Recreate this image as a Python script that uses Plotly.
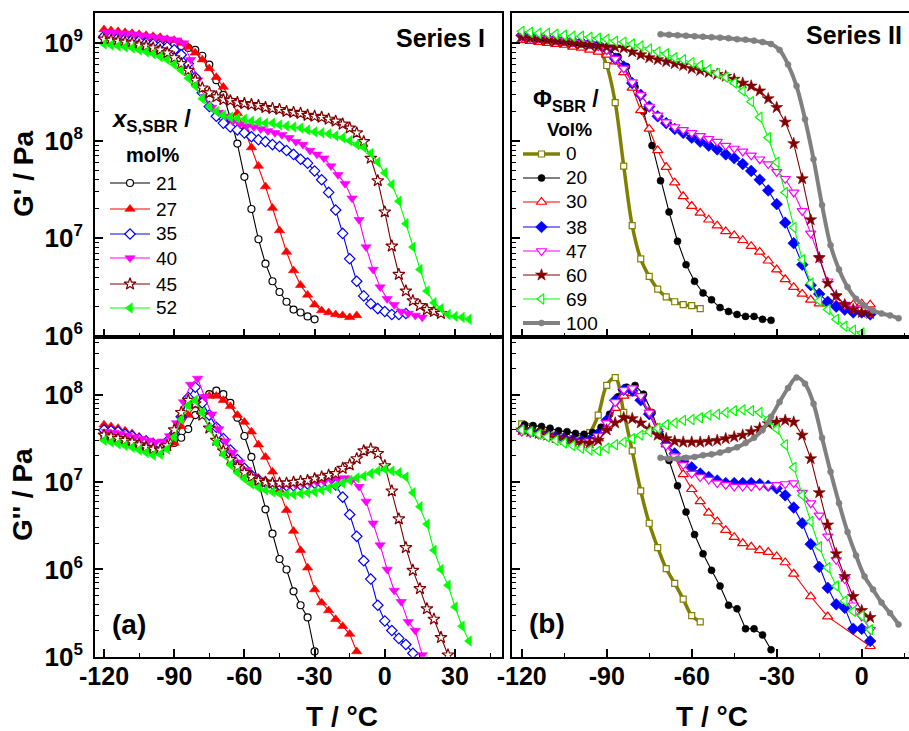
import plotly.graph_objects as go

W, H = 909, 731

# ---------------- temperature grids (deg C) ----------------
GRID_A = [-120, -117, -114, -111, -108, -105, -102, -99, -96, -93, -90, -87, -84, -81, -78, -75,
          -72, -69, -66, -63, -60, -57, -54, -51, -48, -45, -42, -39, -36, -33, -30, -27, -24,
          -21, -18, -15, -12, -9, -6, -3, 0, 3, 6, 9, 12, 15, 18, 21, 24, 27, 30, 33, 36]
GRID_B = [-119, -116, -113, -110, -107, -104, -101, -98, -95, -92, -89, -86, -83, -80, -77, -74,
          -71, -68, -65, -62, -59, -56, -53, -50, -47, -44, -41, -38, -35, -32, -29, -26, -23,
          -20, -17, -14, -11, -8, -5, -2, 1, 4, 7, 10, 13, 16]
GRID_C = [-71, -68, -65, -62, -59, -56, -53, -50, -47, -44, -41, -38, -35, -32, -29, -26, -23,
          -20, -17, -14, -11, -8, -5, -2, 1, 4, 7, 10, 13]
T_II_30_LOSS = [-120, -117, -114, -111, -108, -105, -102, -99, -96, -93, -90, -87, -84, -81, -78,
                -75, -72, -69, -66, -63, -60, -57, -54, -51, -48, -45, -42, -39, -36, -33, -30,
                -27, -24, -18, -12, 3]

# ---------------- Series I : log10(G' / Pa) ----------------
LG1_21 = [9.07, 9.06, 9.06, 9.05, 9.04, 9.03, 9.02, 9.01, 9.00, 8.99, 8.98, 8.97, 8.95, 8.93, 8.87,
          8.78, 8.62, 8.47, 8.23, 7.97, 7.63, 7.30, 6.99, 6.74, 6.56, 6.45, 6.35, 6.27, 6.24, 6.20, 6.17]
LG1_27 = [9.14, 9.13, 9.12, 9.11, 9.10, 9.09, 9.08, 9.07, 9.06, 9.04, 9.03, 9.00, 8.96, 8.90, 8.83,
          8.74, 8.65, 8.55, 8.42, 8.28, 8.12, 7.93, 7.74, 7.53, 7.31, 7.08, 6.86, 6.67, 6.52, 6.42,
          6.32, 6.26, 6.24, 6.22, 6.21, 6.19, 6.21]
LG1_35 = [9.07, 9.06, 9.05, 9.04, 9.03, 9.02, 9.00, 8.99, 8.97, 8.96, 8.93, 8.88, 8.79, 8.65, 8.49,
          8.35, 8.25, 8.18, 8.14, 8.11, 8.08, 8.04, 8.01, 7.99, 7.96, 7.94, 7.90, 7.86, 7.81, 7.77,
          7.69, 7.60, 7.47, 7.29, 7.05, 6.79, 6.56, 6.41, 6.33, 6.28, 6.25, 6.22, 6.22, 6.23]
LG1_40 = [9.11, 9.11, 9.10, 9.10, 9.09, 9.08, 9.07, 9.06, 9.05, 9.04, 9.03, 9.00, 8.83, 8.62, 8.45,
          8.34, 8.29, 8.25, 8.20, 8.17, 8.15, 8.14, 8.12, 8.10, 8.08, 8.06, 8.03, 7.99, 7.96, 7.90,
          7.86, 7.82, 7.74, 7.65, 7.56, 7.41, 7.19, 6.91, 6.68, 6.50, 6.38, 6.32, 6.25, 6.23, 6.21, 6.19]
LG1_45 = [9.04, 9.03, 9.02, 9.01, 9.00, 8.98, 8.97, 8.95, 8.93, 8.90, 8.85, 8.79, 8.72, 8.62, 8.54,
          8.49, 8.45, 8.42, 8.41, 8.39, 8.38, 8.37, 8.36, 8.34, 8.33, 8.32, 8.30, 8.29, 8.28, 8.26,
          8.25, 8.24, 8.22, 8.20, 8.17, 8.13, 8.08, 7.99, 7.82, 7.59, 7.27, 6.92, 6.63, 6.46, 6.36,
          6.31, 6.27, 6.25, 6.23]
LG1_52 = [8.99, 8.98, 8.97, 8.96, 8.95, 8.93, 8.91, 8.89, 8.86, 8.83, 8.78, 8.72, 8.64, 8.56, 8.43,
          8.35, 8.30, 8.26, 8.24, 8.23, 8.22, 8.20, 8.19, 8.18, 8.18, 8.16, 8.15, 8.14, 8.13, 8.11,
          8.09, 8.08, 8.07, 8.05, 8.03, 8.00, 7.96, 7.93, 7.87, 7.78, 7.67, 7.55, 7.38, 7.15, 6.91,
          6.68, 6.46, 6.34, 6.28, 6.22, 6.20, 6.19, 6.17]

# ---------------- Series I : log10(G'' / Pa) ----------------
LL1_21 = [7.55, 7.54, 7.53, 7.51, 7.49, 7.46, 7.43, 7.40, 7.39, 7.41, 7.45, 7.51, 7.61, 7.77, 7.92,
          8.01, 8.05, 8.01, 7.91, 7.74, 7.53, 7.29, 6.99, 6.69, 6.41, 6.12, 6.00, 5.75, 5.59, 5.45, 5.06]
LL1_27 = [7.66, 7.64, 7.62, 7.59, 7.56, 7.52, 7.49, 7.46, 7.44, 7.43, 7.45, 7.64, 7.77, 7.88, 7.96,
          7.99, 7.99, 7.94, 7.87, 7.77, 7.69, 7.58, 7.43, 7.29, 7.12, 6.91, 6.68, 6.44, 6.22, 6.02,
          5.77, 5.62, 5.53, 5.43, 5.35, 5.26, 5.06]
LL1_35 = [7.60, 7.59, 7.58, 7.55, 7.53, 7.50, 7.47, 7.44, 7.43, 7.47, 7.56, 7.75, 7.97, 8.09, 7.91,
          7.77, 7.63, 7.50, 7.37, 7.26, 7.16, 7.08, 7.03, 7.00, 6.98, 6.97, 6.96, 6.96, 6.97, 6.98,
          6.99, 6.99, 6.99, 6.97, 6.83, 6.63, 6.38, 6.10, 5.89, 5.59, 5.41, 5.30, 5.21, 5.14, 5.04]
LL1_40 = [7.58, 7.57, 7.56, 7.54, 7.52, 7.50, 7.48, 7.46, 7.47, 7.53, 7.68, 7.92, 8.12, 8.19, 7.98,
          7.78, 7.61, 7.47, 7.34, 7.23, 7.14, 7.07, 7.03, 7.00, 6.98, 6.97, 6.97, 6.97, 6.98, 6.99,
          7.00, 7.01, 7.03, 7.04, 7.05, 7.03, 6.95, 6.78, 6.53, 6.28, 6.00, 5.76, 5.63, 5.40, 5.30, 5.02]
LL1_45 = [7.54, 7.52, 7.50, 7.48, 7.46, 7.43, 7.40, 7.38, 7.37, 7.42, 7.60, 7.80, 7.94, 7.90, 7.77,
          7.62, 7.48, 7.36, 7.26, 7.18, 7.11, 7.06, 7.02, 7.00, 6.99, 6.99, 6.99, 7.00, 7.01, 7.02,
          7.04, 7.06, 7.08, 7.10, 7.16, 7.20, 7.27, 7.36, 7.38, 7.33, 7.19, 6.90, 6.58, 6.25, 5.99,
          5.78, 5.55, 5.43, 5.22, 5.02]
LL1_52 = [7.48, 7.46, 7.44, 7.42, 7.40, 7.37, 7.34, 7.31, 7.32, 7.38, 7.52, 7.72, 7.88, 7.94, 7.80,
          7.62, 7.45, 7.32, 7.20, 7.11, 7.04, 6.98, 6.94, 6.91, 6.89, 6.87, 6.86, 6.86, 6.87, 6.88,
          6.89, 6.91, 6.93, 6.96, 6.99, 7.02, 7.05, 7.07, 7.10, 7.13, 7.15, 7.13, 7.11, 7.06, 6.88,
          6.72, 6.52, 6.22, 6.00, 5.82, 5.57, 5.35, 5.18]

# ---------------- Series II : log10(G' / Pa) ----------------
LG2_0 = [9.08, 9.07, 9.06, 9.05, 9.04, 9.03, 9.02, 9.00, 8.98, 8.95, 8.77, 8.39, 7.74, 7.13, 6.79,
         6.61, 6.48, 6.40, 6.35, 6.32, 6.31, 6.28]
LG2_20 = [9.06, 9.05, 9.04, 9.03, 9.02, 9.01, 9.00, 8.99, 8.98, 8.97, 8.93, 8.86, 8.76, 8.55, 8.30,
          7.95, 7.59, 7.27, 6.97, 6.73, 6.56, 6.44, 6.37, 6.29, 6.25, 6.22, 6.20, 6.20, 6.17, 6.16]
LG2_30 = [9.03, 9.02, 9.01, 9.00, 8.99, 8.98, 8.96, 8.95, 8.93, 8.91, 8.88, 8.81, 8.70, 8.54, 8.31,
          8.12, 7.90, 7.73, 7.57, 7.43, 7.33, 7.26, 7.19, 7.13, 7.07, 7.03, 6.98, 6.92, 6.86, 6.77,
          6.68, 6.58, 6.50, 6.43, 6.37, 6.33, 6.33, 6.32, 6.32, 6.32, 6.33, 6.32]
LG2_38 = [9.08, 9.07, 9.06, 9.05, 9.04, 9.03, 9.02, 9.01, 9.00, 8.98, 8.94, 8.84, 8.76, 8.59, 8.47,
          8.35, 8.25, 8.18, 8.12, 8.08, 8.03, 7.99, 7.95, 7.91, 7.86, 7.82, 7.76, 7.69, 7.60, 7.49,
          7.35, 7.16, 6.95, 6.73, 6.52, 6.43, 6.35, 6.30, 6.27, 6.24, 6.24, 6.22]
LG2_47 = [9.06, 9.05, 9.05, 9.04, 9.03, 9.02, 9.01, 9.00, 8.99, 8.97, 8.93, 8.84, 8.74, 8.60, 8.47,
          8.35, 8.26, 8.19, 8.14, 8.11, 8.08, 8.05, 8.02, 7.99, 7.95, 7.92, 7.89, 7.85, 7.81, 7.76,
          7.68, 7.61, 7.47, 7.28, 7.05, 6.80, 6.56, 6.41, 6.32, 6.28, 6.27, 6.24]
LG2_60 = [9.06, 9.05, 9.04, 9.03, 9.02, 9.01, 9.00, 8.99, 8.98, 8.97, 8.96, 8.96, 8.95, 8.91, 8.88,
          8.85, 8.83, 8.81, 8.79, 8.77, 8.74, 8.72, 8.70, 8.68, 8.66, 8.63, 8.59, 8.56, 8.51, 8.43,
          8.34, 8.19, 7.97, 7.61, 7.19, 6.80, 6.54, 6.41, 6.32, 6.27, 6.24, 6.23]
LG2_69 = [9.12, 9.11, 9.10, 9.10, 9.09, 9.08, 9.07, 9.07, 9.06, 9.05, 9.04, 9.02, 9.01, 8.99, 8.97,
          8.94, 8.91, 8.89, 8.85, 8.83, 8.80, 8.77, 8.73, 8.69, 8.65, 8.59, 8.51, 8.40, 8.24, 8.03,
          7.78, 7.47, 7.11, 6.78, 6.54, 6.36, 6.27, 6.17, 6.10, 6.06, 6.03]
LG2_100 = [9.09, 9.085, 9.08, 9.075, 9.07, 9.065, 9.06, 9.055, 9.05, 9.04, 9.035, 9.025, 9.01, 8.99,
           8.93, 8.78, 8.56, 8.22, 7.81, 7.34, 6.93, 6.68, 6.50, 6.38, 6.31, 6.26, 6.23, 6.21, 6.18]

# ---------------- Series II : log10(G'' / Pa) ----------------
LL2_0 = [7.67, 7.64, 7.61, 7.57, 7.54, 7.52, 7.50, 7.50, 7.57, 7.77, 8.11, 8.20, 7.80, 7.36, 6.90,
         6.53, 6.25, 6.01, 5.84, 5.66, 5.47, 5.40]
LL2_20 = [7.66, 7.65, 7.64, 7.62, 7.59, 7.58, 7.56, 7.55, 7.57, 7.63, 7.78, 7.98, 8.09, 8.11, 8.01,
          7.80, 7.53, 7.25, 6.96, 6.66, 6.40, 6.18, 5.99, 5.81, 5.59, 5.55, 5.32, 5.32, 5.25, 5.08]
LL2_30 = [7.61, 7.59, 7.57, 7.55, 7.52, 7.49, 7.47, 7.46, 7.45, 7.50, 7.62, 7.85, 7.99, 8.02, 7.96,
          7.81, 7.62, 7.43, 7.29, 7.09, 6.92, 6.78, 6.65, 6.55, 6.45, 6.37, 6.30, 6.26, 6.22, 6.20,
          6.15, 6.08, 5.95, 5.69, 5.46, 5.12]
LL2_38 = [7.60, 7.58, 7.56, 7.54, 7.52, 7.50, 7.48, 7.47, 7.48, 7.55, 7.71, 7.94, 8.06, 8.05, 7.94,
          7.78, 7.58, 7.44, 7.33, 7.24, 7.17, 7.10, 7.06, 7.02, 6.99, 6.99, 6.99, 6.99, 6.98, 6.96,
          6.93, 6.85, 6.71, 6.53, 6.29, 6.03, 5.79, 5.60, 5.56, 5.32, 5.32, 5.18]
LL2_47 = [7.58, 7.57, 7.55, 7.53, 7.51, 7.49, 7.47, 7.46, 7.47, 7.53, 7.68, 7.92, 8.06, 8.08, 7.99,
          7.80, 7.58, 7.42, 7.30, 7.20, 7.10, 7.06, 7.03, 6.99, 6.97, 6.95, 6.95, 6.95, 6.96, 6.96,
          6.97, 6.98, 6.99, 6.88, 6.76, 6.62, 6.38, 6.11, 5.89, 5.59, 5.46, 5.31]
LL2_60 = [7.60, 7.58, 7.56, 7.54, 7.51, 7.49, 7.47, 7.45, 7.45, 7.48, 7.60, 7.68, 7.74, 7.73, 7.68,
          7.61, 7.54, 7.50, 7.47, 7.46, 7.46, 7.46, 7.47, 7.48, 7.50, 7.52, 7.54, 7.58, 7.62, 7.67,
          7.69, 7.71, 7.69, 7.54, 7.27, 6.88, 6.51, 6.18, 5.92, 5.69, 5.53, 5.45]
LL2_69 = [7.60, 7.58, 7.55, 7.52, 7.48, 7.45, 7.42, 7.39, 7.37, 7.36, 7.39, 7.43, 7.46, 7.50, 7.54,
          7.58, 7.62, 7.66, 7.68, 7.71, 7.72, 7.74, 7.77, 7.78, 7.80, 7.82, 7.83, 7.82, 7.80, 7.72,
          7.61, 7.43, 7.17, 6.85, 6.55, 6.26, 6.02, 5.81, 5.64, 5.52, 5.47, 5.31]
LL2_100 = [7.28, 7.27, 7.27, 7.28, 7.29, 7.31, 7.32, 7.34, 7.37, 7.40, 7.45, 7.51, 7.60, 7.75, 7.92,
           8.08, 8.20, 8.13, 7.90, 7.51, 7.12, 6.76, 6.43, 6.16, 5.92, 5.77, 5.62, 5.50, 5.37]

LABELS_I = ["21", "27", "35", "40", "45", "52"]
LABELS_II = ["0", "20", "30", "38", "47", "60", "69", "100"]

# ---------------- styles ----------------
FONT = "Arial, Liberation Sans, sans-serif"
STYLE_I = {
    "21": dict(color="#000000", symbol="circle", open=True, size=7, lw=1.1),
    "27": dict(color="#FF0000", symbol="triangle-up", open=False, size=9, lw=1.1),
    "35": dict(color="#0000FF", symbol="diamond", open=True, size=8, lw=1.1),
    "40": dict(color="#FF00FF", symbol="triangle-down", open=False, size=9, lw=1.1),
    "45": dict(color="#800000", symbol="star", open=True, size=9, lw=1.1),
    "52": dict(color="#00FF00", symbol="triangle-left", open=False, size=9, lw=1.1),
}
STYLE_II = {
    "0": dict(color="#808000", symbol="square", open=True, size=6, lw=3.5),
    "20": dict(color="#000000", symbol="circle", open=False, size=7, lw=1.1),
    "30": dict(color="#FF0000", symbol="triangle-up", open=True, size=9, lw=1.1),
    "38": dict(color="#0000FF", symbol="diamond", open=False, size=9, lw=1.1),
    "47": dict(color="#FF00FF", symbol="triangle-down", open=True, size=9, lw=1.1),
    "60": dict(color="#800000", symbol="star", open=False, size=9, lw=1.1),
    "69": dict(color="#00FF00", symbol="triangle-left", open=True, size=9, lw=1.1),
    "100": dict(color="#808080", symbol="circle", open=False, size=6, lw=4.0),
}

DATA_I_GP = {"21": (GRID_A, LG1_21), "27": (GRID_A, LG1_27), "35": (GRID_A, LG1_35),
             "40": (GRID_B, LG1_40), "45": (GRID_A, LG1_45), "52": (GRID_A, LG1_52)}
DATA_I_GPP = {"21": (GRID_A, LL1_21), "27": (GRID_A, LL1_27), "35": (GRID_A, LL1_35),
              "40": (GRID_B, LL1_40), "45": (GRID_A, LL1_45), "52": (GRID_A, LL1_52)}
DATA_II_GP = {"0": (GRID_A, LG2_0), "20": (GRID_B, LG2_20), "30": (GRID_A, LG2_30),
              "38": (GRID_A, LG2_38), "47": (GRID_A, LG2_47), "60": (GRID_A, LG2_60),
              "69": (GRID_A, LG2_69), "100": (GRID_C, LG2_100)}
DATA_II_GPP = {"0": (GRID_A, LL2_0), "20": (GRID_B, LL2_20), "30": (T_II_30_LOSS, LL2_30),
               "38": (GRID_A, LL2_38), "47": (GRID_A, LL2_47), "60": (GRID_A, LL2_60),
               "69": (GRID_A, LL2_69), "100": (GRID_C, LL2_100)}


def marker_of(st):
    if st["open"]:
        return dict(symbol=st["symbol"], size=st["size"], color="white",
                    line=dict(color=st["color"], width=1.2))
    return dict(symbol=st["symbol"], size=st["size"], color=st["color"],
                line=dict(color=st["color"], width=0.6))


fig = go.Figure()


def add_series(data, styles, order, xa, ya):
    for key in order:
        grid, logs = data[key]
        st = styles[key]
        thick = st["lw"] > 2
        fig.add_trace(go.Scatter(
            x=grid[:len(logs)], y=[10 ** v for v in logs], xaxis=xa, yaxis=ya,
            mode="lines+markers",
            line=dict(color=st["color"], width=st["lw"],
                      shape="spline" if thick else "linear", smoothing=1.0 if thick else None),
            marker=marker_of(st), showlegend=False, hoverinfo="skip"))


add_series(DATA_I_GP, STYLE_I, LABELS_I, "x", "y")
add_series(DATA_II_GP, STYLE_II, LABELS_II, "x2", "y2")
add_series(DATA_I_GPP, STYLE_I, LABELS_I, "x3", "y3")
add_series(DATA_II_GPP, STYLE_II, LABELS_II, "x4", "y4")

# ---------------- legends (drawn on a full-figure pixel overlay) ----------------
LEG_I_ROWS = [183, 209, 234, 258, 284, 308]
LEG_II_ROWS = [154, 178, 202, 227, 251, 275, 299, 323]


def add_legend(labels, styles, rows, x0, x1, xt):
    for lab, yy in zip(labels, rows):
        st = styles[lab]
        fig.add_trace(go.Scatter(x=[x0, x1], y=[yy, yy], xaxis="x5", yaxis="y5", mode="lines",
                                 line=dict(color=st["color"], width=st["lw"]),
                                 showlegend=False, hoverinfo="skip"))
        fig.add_trace(go.Scatter(x=[(x0 + x1) / 2], y=[yy], xaxis="x5", yaxis="y5", mode="markers",
                                 marker=marker_of(st), showlegend=False, hoverinfo="skip"))
        fig.add_annotation(x=xt / W, y=1 - yy / H, xref="paper", yref="paper", text=lab,
                           showarrow=False, xanchor="left", yanchor="middle",
                           font=dict(family=FONT, size=19, color="black"))


add_legend(LABELS_I, STYLE_I, LEG_I_ROWS, 110, 150, 154)
add_legend(LABELS_II, STYLE_II, LEG_II_ROWS, 523, 560, 564)


def px2paper(px, py):
    return px / W, 1 - py / H


def ann(text, px, py, size, xanchor="center", yanchor="middle", angle=0):
    xp, yp = px2paper(px, py)
    fig.add_annotation(x=xp, y=yp, xref="paper", yref="paper", text=text, showarrow=False,
                       xanchor=xanchor, yanchor=yanchor, textangle=angle,
                       font=dict(family=FONT, size=size, color="black", weight="bold"))


ann("<i>x</i><sub>S,SBR</sub> /", 109, 120, 24, xanchor="left")
ann("mol%", 153, 155, 20)
ann("\u03a6<sub>SBR</sub> /", 531, 101, 23, xanchor="left")
ann("Vol%", 569, 129, 19)
ann("Series I", 487, 38, 25, xanchor="right")
ann("Series II", 904, 35, 25, xanchor="right")
ann("(a)", 129, 624, 28)
ann("(b)", 547, 623, 28)
ann("T / \u00b0C", 342, 716, 28)
ann("T / \u00b0C", 712, 716, 28)
ann("G' / Pa", 23, 174, 28, angle=-90)
ann("G'' / Pa", 23, 495, 28, angle=-90)

# ---------------- axes ----------------
XL = [95 / W, 501.7 / W]
XR = [512.3 / W, 1.0]
YT = [1 - 336.5 / H, 1 - 13 / H]
YB = [1 - 656.7 / H, 1 - 336.5 / H]

LINE = dict(showline=True, linecolor="black", linewidth=1.6, showgrid=False, zeroline=False,
            ticks="inside", tickcolor="black", tickwidth=1.6, ticklen=8, automargin=False)
XTICKS = [-120, -90, -60, -30, 0, 30]
XMINOR = dict(tickvals=[-105, -75, -45, -15, 15, 45], ticks="inside", ticklen=4, tickwidth=1.4,
              tickcolor="black", showgrid=False)
XFONT = dict(family=FONT, size=25, color="black", weight="bold")


def ylog_ticks(lo, hi):
    vals = [10 ** e for e in range(lo, hi + 1)]
    txt = ["10<sup><span style='font-size:17px'>%d</span></sup>" % e for e in range(lo, hi + 1)]
    minor = [k * 10 ** e for e in range(lo - 1, hi + 1) for k in range(2, 10)]
    return vals, txt, minor


yt_v, yt_t, yt_m = ylog_ticks(6, 9)
yb_v, yb_t, yb_m = ylog_ticks(5, 8)
YFONT = dict(family=FONT, size=26, color="black", weight="bold")


def xax(domain, rng, anchor, labels):
    return dict(LINE, domain=domain, range=rng, anchor=anchor, mirror=True, tickvals=XTICKS,
                ticktext=[str(v) for v in XTICKS], showticklabels=labels, tickfont=XFONT,
                minor=XMINOR, ticklabelstandoff=-4)


def yax(domain, rng, anchor, vals, txt, minor, labels, mirror):
    return dict(LINE, type="log", domain=domain, range=rng, anchor=anchor, mirror=mirror,
                tickvals=vals, ticktext=txt, showticklabels=labels, tickfont=YFONT,
                minor=dict(tickvals=minor, ticks="inside", ticklen=4, tickwidth=1.4,
                           tickcolor="black", showgrid=False), ticklabelstandoff=5)


fig.update_layout(
    template="none",
    width=W, height=H, margin=dict(l=0, r=0, t=0, b=0, autoexpand=False),
    paper_bgcolor="white", plot_bgcolor="rgba(0,0,0,0)",
    font=dict(family=FONT, color="black"),
    showlegend=False,
    xaxis=xax(XL, [-123.85, 49.96], "y", False),
    yaxis=yax(YT, [5.994, 9.308], "x", yt_v, yt_t, yt_m, True, True),
    xaxis2=xax(XR, [-123.32, 16.69], "y2", False),
    yaxis2=yax(YT, [5.994, 9.308], "x2", yt_v, yt_t, yt_m, False, False),
    xaxis3=xax(XL, [-123.85, 49.96], "y3", True),
    yaxis3=yax(YB, [5.0, 8.671], "x3", yb_v, yb_t, yb_m, True, True),
    xaxis4=xax(XR, [-123.32, 16.69], "y4", True),
    yaxis4=yax(YB, [5.0, 8.671], "x4", yb_v, yb_t, yb_m, False, False),
    xaxis5=dict(domain=[0, 1], range=[0, W], anchor="y5", visible=False, fixedrange=True,
                automargin=False),
    yaxis5=dict(domain=[0, 1], range=[H, 0], anchor="x5", visible=False, fixedrange=True,
                automargin=False),
)

# remove the browser's default 8px page margin so the figure sits at the window origin
PAGE_FIX = ("document.documentElement.style.margin='0';document.body.style.margin='0';"
            "document.body.style.padding='0';document.body.style.overflow='hidden';")

fig.write_html("out.html", post_script=PAGE_FIX, config={"displayModeBar": False})
